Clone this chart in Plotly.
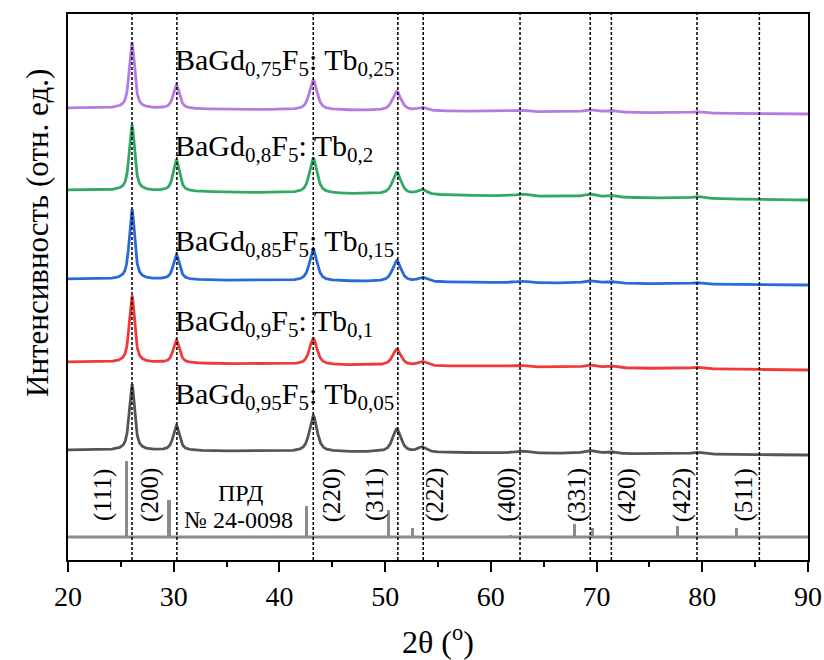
import numpy as np
import plotly.graph_objects as go

# ---- sample patterns: peak positions (2θ), heights above background, widths ----
peak_pos = [26.05, 30.25, 43.2, 51.1, 53.5, 62.9, 69.3, 71.3, 79.5]
peak_fwhm = [0.6, 0.7, 0.85, 0.95, 1.0, 1.2, 1.2, 1.2, 1.2]

names = ["BaGd0,95F5:Tb0,05", "BaGd0,9F5:Tb0,1", "BaGd0,85F5:Tb0,15",
         "BaGd0,8F5:Tb0,2", "BaGd0,75F5:Tb0,25"]
colors = ["#555555", "#ee3a3a", "#2a6ad8", "#33a862", "#b57be0"]

# background level at 20° and 90° (stacked offsets, arbitrary units)
bg_start = [110, 198, 281, 370, 452]
bg_end = [105, 190, 275, 360, 446]

peak_h = [
    [66, 25, 36, 23, 5, 2, 3, 2, 2],
    [67, 23, 26, 16, 4, 1.5, 2.5, 2, 1.5],
    [70, 25, 31, 21, 4, 1.5, 2.5, 2, 1.5],
    [66, 31, 35, 22, 5, 2, 3, 2, 2],
    [66, 24, 30, 19, 3, 1.5, 2.5, 2, 1.5],
]

# ---- reference pattern (ПРД № 24-0098) ----
ref_pos = [25.55, 29.55, 42.58, 50.33, 52.6, 61.88, 67.9, 69.64, 77.68, 83.26]
ref_int = [100, 49, 41, 36, 12, 3, 17, 12, 14, 12]
ref_hkl = ["(111)", "(200)", "(220)", "(311)", "(222)", "(400)",
           "(331)", "(420)", "(422)", "(511)"]
ref_label_x = [23.3, 27.75, 45.0, 49.05, 54.7, 61.5, 68.15, 72.9, 78.1, 83.9]
ref_base = 23
ref_scale = 0.76

# ---- guide lines ----
guide_x = [26.05, 30.3, 43.2, 51.2, 53.6, 62.76, 69.4, 71.4, 79.5, 85.4]

labels = [
    "BaGd<sub>0,95</sub>F<sub>5</sub>: Tb<sub>0,05</sub>",
    "BaGd<sub>0,9</sub>F<sub>5</sub>: Tb<sub>0,1</sub>",
    "BaGd<sub>0,85</sub>F<sub>5</sub>: Tb<sub>0,15</sub>",
    "BaGd<sub>0,8</sub>F<sub>5</sub>: Tb<sub>0,2</sub>",
    "BaGd<sub>0,75</sub>F<sub>5</sub>: Tb<sub>0,25</sub>",
]
label_y = [164, 237, 317, 412, 498]

FONT = "Liberation Serif"


def profile(x, centers, heights, fwhms, eta=0.7):
    y = np.zeros_like(x)
    for c, h, w in zip(centers, heights, fwhms):
        d = (x - c) / (w / 2)
        lor = 1.0 / (1.0 + d ** 2)
        gau = np.exp(-np.log(2) * d ** 2)
        y += h * (eta * lor + (1 - eta) * gau)
    return y


tt = np.linspace(20, 90, 3501)
fig = go.Figure()

for i in range(len(names)):
    bg = bg_start[i] + (bg_end[i] - bg_start[i]) * (tt - 20) / 70
    y = bg + profile(tt, peak_pos, peak_h[i], peak_fwhm)
    fig.add_trace(go.Scatter(x=tt, y=y, mode="lines", name=names[i],
                             line=dict(color=colors[i], width=2.8),
                             showlegend=False, hoverinfo="skip"))

# reference bars and baseline
fig.add_trace(go.Scatter(x=[20, 90], y=[ref_base, ref_base], mode="lines",
                         line=dict(color="#8c8c8c", width=3),
                         showlegend=False, hoverinfo="skip"))
fig.add_trace(go.Bar(x=ref_pos, y=[v * ref_scale for v in ref_int], base=ref_base,
                     width=0.3, marker=dict(color="#8c8c8c", line=dict(width=0)),
                     showlegend=False, hoverinfo="skip"))

shapes = []
for gx in guide_x:
    shapes.append(dict(type="line", xref="x", yref="paper", x0=gx, x1=gx, y0=0, y1=1,
                       line=dict(color="black", width=1.5, dash="3px,2px"), layer="above"))

ann = []
for t, yv in zip(labels, label_y):
    ann.append(dict(x=29.95, y=yv, xref="x", yref="y", text=t, showarrow=False,
                    xanchor="left", yanchor="middle",
                    font=dict(family=FONT, size=30, color="black")))

for t, xv in zip(ref_hkl, ref_label_x):
    ann.append(dict(x=xv, y=65, xref="x", yref="y", text=t, showarrow=False,
                    textangle=-90, xanchor="center", yanchor="middle",
                    font=dict(family=FONT, size=25, color="black")))

ann.append(dict(x=36.3, y=67, xref="x", yref="y", text="ПРД", showarrow=False,
                font=dict(family=FONT, size=24, color="black")))
ann.append(dict(x=36.1, y=40, xref="x", yref="y", text="№ 24-0098", showarrow=False,
                font=dict(family=FONT, size=24, color="black")))

ann.append(dict(x=-0.042, y=327, xref="paper", yref="y", text="Интенсивность (отн. ед.)",
                showarrow=False, textangle=-90, xanchor="center", yanchor="middle",
                font=dict(family=FONT, size=31, color="black")))
ann.append(dict(x=0.5, y=-0.1465, xref="paper", yref="paper", text="2θ (<sup>o</sup>)",
                showarrow=False, xanchor="center", yanchor="middle",
                font=dict(family=FONT, size=32, color="black")))

fig.update_layout(
    width=824, height=660,
    margin=dict(l=68, r=16, t=14, b=100),
    paper_bgcolor="white", plot_bgcolor="white",
    shapes=shapes, annotations=ann,
    bargap=0,
    xaxis=dict(range=[20, 90], tickvals=[20, 30, 40, 50, 60, 70, 80, 90],
               ticks="outside", ticklen=10, tickwidth=2, tickcolor="black",
               minor=dict(ticks="outside", ticklen=5, tickwidth=1.5, dtick=5,
                          tickcolor="black"),
               showline=True, linewidth=2, linecolor="black", mirror=True,
               showgrid=False, zeroline=False, automargin=False,
               tickfont=dict(family=FONT, size=28, color="black")),
    yaxis=dict(range=[0, 546], showticklabels=False, ticks="",
               showline=True, linewidth=2, linecolor="black", mirror=True,
               showgrid=False, zeroline=False, automargin=False),
)

fig.write_html("out.html")
